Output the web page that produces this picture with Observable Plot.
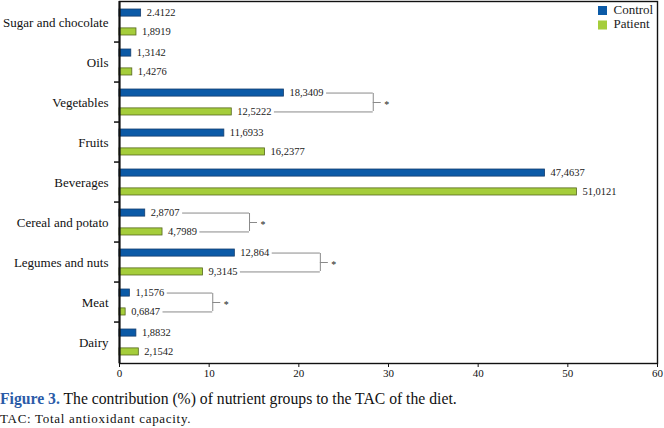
<!DOCTYPE html>
<html>
<head>
<meta charset="utf-8">
<script src="https://cdn.jsdelivr.net/npm/d3@7"></script>
<script src="https://cdn.jsdelivr.net/npm/@observablehq/plot@0.6"></script>
<style>
  html, body { margin: 0; padding: 0; background: #fff; }
  body { width: 664px; height: 428px; overflow: hidden; font-family: "Liberation Serif", serif; }
  #chart svg, #chart svg text { font-family: "Liberation Serif", serif !important; }
  #cap1 { font-size: 15.7px; margin: 9px 0 0 0; line-height: 19px; color: #111; white-space: nowrap; }
  #cap1 b { color: #2b5ba8; }
  #cap2 { font-size: 13px; letter-spacing: 0.7px; margin: 3px 0 0 0; line-height: 16px; color: #111; white-space: nowrap; }
</style>
</head>
<body>
<div id="chart"></div>
<div id="cap1"><b>Figure 3.</b> The contribution (%) of nutrient groups to the TAC of the diet.</div>
<div id="cap2">TAC: Total antioxidant capacity.</div>
<script>
const categories = ["Sugar and chocolate","Oils","Vegetables","Fruits","Beverages","Cereal and potato","Legumes and nuts","Meat","Dairy"];
const controlValues = [2.4122,1.3142,18.3409,11.6933,47.4637,2.8707,12.864,1.1576,1.8832];
const patientValues = [1.8919,1.4276,12.5222,16.2377,51.0121,4.7989,9.3145,0.6847,2.1542];
const controlLabels = ["2.4122","1,3142","18,3409","11,6933","47,4637","2,8707","12,864","1,1576","1,8832"];
const patientLabels = ["1,8919","1,4276","12,5222","16,2377","51,0121","4,7989","9,3145","0,6847","2,1542"];
const bracketCategories = ["Vegetables","Cereal and potato","Legumes and nuts","Meat"];
const bracketAt = [28.3, 14.5, 22.4, 10.4];
const xTicks = [0,10,20,30,40,50,60];
const seriesNames = ["Control","Patient"];
const seriesColors = ["#0b5aa7","#a5cd3b"];
const seriesStrokes = ["#163e6e","#56661f"];

const W = 664, H = 380, mL = 119, mR = 7, mT = 1, mB = 17;
const ppu = (W - mL - mR) / 60;
const labelFont = "10.5px 'Liberation Serif'";
const ctx = document.createElement("canvas").getContext("2d");
ctx.font = labelFont;
const tw = s => ctx.measureText(s).width;

const control = categories.map((c,i)=>({cat:c, v:controlValues[i], label:controlLabels[i]}));
const patient = categories.map((c,i)=>({cat:c, v:patientValues[i], label:patientLabels[i]}));
const brackets = bracketCategories.map((c,i)=>{
  const k = categories.indexOf(c);
  return {
    cat: c, at: bracketAt[i],
    c1: controlValues[k] + (5.5 + tw(controlLabels[k]) + 3)/ppu,
    p1: patientValues[k] + (5.5 + tw(patientLabels[k]) + 3)/ppu
  };
});
const bandH = (H - mT - mB + 6) / categories.length;
const off = bandH/2 - 11;
const FF = "'Liberation Serif', serif";

const chart = Plot.plot({
  width: W, height: H,
  marginLeft: mL, marginRight: mR, marginTop: mT, marginBottom: mB,
  style: "font-family: 'Liberation Serif', serif; font-size: 11px; color: #111; background: #fff;",
  x: {domain: [0, 60], ticks: xTicks},
  y: {domain: categories, padding: 0, insetTop: -3, insetBottom: -3, label: null},
  marks: [
    Plot.barX(control, {x: "v", y: "cat", fill: seriesColors[0], stroke: seriesStrokes[0], strokeWidth: 0.8, insetTop: 7, insetBottom: bandH - 15}),
    Plot.barX(patient, {x: "v", y: "cat", fill: seriesColors[1], stroke: seriesStrokes[1], strokeWidth: 0.8, insetTop: bandH - 15, insetBottom: 7}),
    Plot.text(control, {x: "v", y: "cat", text: "label", dx: 5.5, dy: -off, textAnchor: "start", fontSize: 10.5, fontFamily: FF, fill: "#222"}),
    Plot.text(patient, {x: "v", y: "cat", text: "label", dx: 5.5, dy: off, textAnchor: "start", fontSize: 10.5, fontFamily: FF, fill: "#222"}),
    Plot.ruleY(brackets, {y: "cat", x1: "c1", x2: "at", dy: -off, stroke: "#8a8a8a", strokeWidth: 1}),
    Plot.ruleY(brackets, {y: "cat", x1: "p1", x2: "at", dy: off, stroke: "#8a8a8a", strokeWidth: 1}),
    Plot.tickX(brackets, {x: "at", y: "cat", insetTop: bandH/2 - off, insetBottom: bandH/2 - off, stroke: "#8a8a8a", strokeWidth: 1}),
    Plot.ruleY(brackets, {y: "cat", x1: "at", x2: d => d.at + 8/ppu, stroke: "#8a8a8a", strokeWidth: 1}),
    Plot.text(brackets, {x: "at", y: "cat", text: () => "*", dx: 11, dy: 2, textAnchor: "start", fontSize: 10, fontFamily: FF, fill: "#222"}),
    Plot.ruleY(categories.slice(1), {y: d => d, x1: -5/ppu, x2: 0, dy: -bandH/2, stroke: "#111", strokeWidth: 1.5}),
    Plot.axisY({tickSize: 0, tickPadding: 11, fontSize: 13, fontFamily: FF, label: null}),
    Plot.axisX({ticks: xTicks, tickSize: 4, tickPadding: 2, fontSize: 11, fontFamily: FF, label: null}),
    Plot.frame({stroke: "#111", strokeWidth: 1.4}),
    Plot.ruleX([0], {stroke: "#111", strokeWidth: 2}),
    Plot.dot([seriesNames[0]], {frameAnchor: "top-right", dx: -55, dy: 9, symbol: "square", r: 5.1, fill: seriesColors[0], stroke: null}),
    Plot.dot([seriesNames[1]], {frameAnchor: "top-right", dx: -55, dy: 23.5, symbol: "square", r: 5.1, fill: seriesColors[1], stroke: null}),
    Plot.text([seriesNames[0]], {frameAnchor: "top-right", dx: -44, dy: 8.5, lineAnchor: "middle", textAnchor: "start", text: d => d, fontSize: 13, fontFamily: FF, fill: "#222"}),
    Plot.text([seriesNames[1]], {frameAnchor: "top-right", dx: -44, dy: 22.5, lineAnchor: "middle", textAnchor: "start", text: d => d, fontSize: 13, fontFamily: FF, fill: "#222"})
  ]
});
document.getElementById("chart").appendChild(chart);
</script>
</body>
</html>
